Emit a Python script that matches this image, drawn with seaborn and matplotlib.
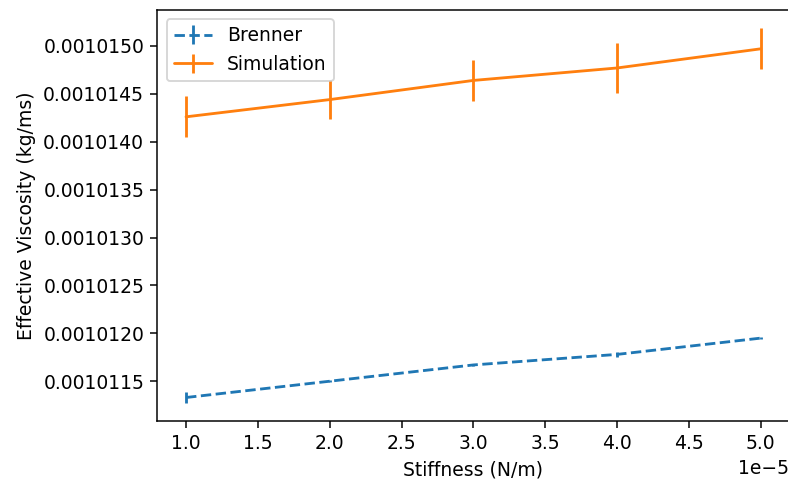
import numpy as np
import matplotlib
matplotlib.use("Agg")
import matplotlib.pyplot as plt
import seaborn as sns

# Stiffness values (N/m)
stiffness = [1e-5, 2e-5, 3e-5, 4e-5, 5e-5]

# Effective viscosity (kg/ms) from the Brenner model
brenner = [0.00101133, 0.00101150, 0.00101167, 0.00101178, 0.00101195]
brenner_err = [5.3e-8, 1.0e-8, 1.0e-8, 2.5e-8, 1.0e-8]

# Effective viscosity (kg/ms) from the simulations
simulation = [0.00101426, 0.00101444, 0.00101464, 0.00101477, 0.00101497]
simulation_err = [2.15e-7, 2.0e-7, 2.15e-7, 2.6e-7, 2.15e-7]

sns.set_style("ticks")
plt.rcParams.update({
    "font.family": ["DejaVu Sans"],
    "font.size": 10,
    "text.color": "black",
    "axes.labelcolor": "black",
    "axes.edgecolor": "black",
    "axes.linewidth": 0.8,
    "xtick.color": "black",
    "ytick.color": "black",
    "xtick.major.size": 3.5,
    "ytick.major.size": 3.5,
    "xtick.major.width": 0.8,
    "ytick.major.width": 0.8,
    "legend.edgecolor": "0.8",
    "legend.framealpha": 0.8,
})
palette = sns.color_palette("tab10")

W, H, DPI = 788, 480, 135
fig = plt.figure(figsize=(W / DPI, H / DPI), dpi=DPI)
left, right, top, bottom = 157.3, 789.5, 9.5, 421.3
ax = fig.add_axes([left / W, 1 - bottom / H, (right - left) / W, (bottom - top) / H])

ax.errorbar(stiffness, brenner, yerr=brenner_err, linestyle="--",
            color=palette[0], linewidth=1.5, label="Brenner")
ax.errorbar(stiffness, simulation, yerr=simulation_err, linestyle="-",
            color=palette[1], linewidth=1.5, label="Simulation")

for side in ("top", "right"):
    ax.spines[side].set_visible(True)

ax.set_xlabel("Stiffness (N/m)")
ax.set_ylabel("Effective Viscosity (kg/ms)")
ax.yaxis.set_major_formatter(matplotlib.ticker.FormatStrFormatter("%.7f"))
ax.legend(loc="upper left")

fig.savefig("out.png", dpi=DPI)
